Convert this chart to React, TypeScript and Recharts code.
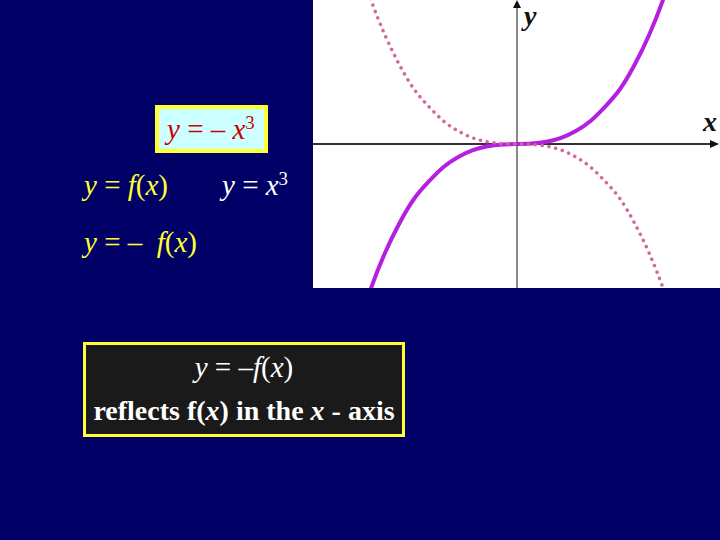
import { LineChart, Line, XAxis, YAxis, ReferenceLine } from 'recharts';

// x values read along the horizontal axis of the graph
const xs = [-1.1, -1.0, -0.9, -0.8, -0.7, -0.6, -0.5, -0.4, -0.3, -0.2, -0.1, 0, 0.1, 0.2, 0.3, 0.4, 0.5, 0.6, 0.7, 0.8, 0.9, 1.0, 1.1];
// solid curve y = x^3, heights
const cubeY = [-1.33, -1.02, -0.76, -0.55, -0.38, -0.26, -0.16, -0.09, -0.042, -0.015, -0.003, 0, 0.003, 0.015, 0.042, 0.09, 0.16, 0.26, 0.38, 0.55, 0.76, 1.02, 1.33];
// dotted curve y = -x^3
const negCubeY = [1.33, 1.02, 0.76, 0.55, 0.38, 0.26, 0.16, 0.09, 0.042, 0.015, 0.003, 0, -0.003, -0.015, -0.042, -0.09, -0.16, -0.26, -0.38, -0.55, -0.76, -1.02, -1.33];

const xDomain = [-1.388, 1.381];
const yDomain = [-1, 1];

const data = xs.map((x, i) => ({ x, cube: cubeY[i], neg: negCubeY[i] }));

const serif = '"Liberation Serif", "Times New Roman", serif';

const XAxisLine = (props: any) => {
  const { x1, y1, x2 } = props;
  return (
    <g>
      <line x1={x1} y1={y1} x2={x2 - 6} y2={y1} stroke="#333" strokeWidth={2} />
      <path d={`M${x2 - 1},${y1} L${x2 - 10},${y1 - 4} L${x2 - 10},${y1 + 4} Z`} fill="#111" />
    </g>
  );
};

const YAxisLine = (props: any) => {
  const { x1, y1, y2 } = props;
  const top = Math.min(y1, y2);
  const bottom = Math.max(y1, y2);
  return (
    <g>
      <line x1={x1} y1={top + 5} x2={x1} y2={bottom} stroke="#888" strokeWidth={2} />
      <path d={`M${x1},${top} L${x1 - 4},${top + 8} L${x1 + 4},${top + 8} Z`} fill="#111" />
    </g>
  );
};

const I = ({ children }: any) => <span style={{ fontStyle: 'italic' }}>{children}</span>;
const Sup = ({ children }: any) => (
  <span style={{ fontSize: '0.65em', position: 'relative', top: '-0.55em' }}>{children}</span>
);

export default function App() {
  return (
    <div
      style={{
        position: 'absolute',
        left: 0,
        top: 0,
        width: 720,
        height: 540,
        background: '#000066',
        overflow: 'hidden',
        fontFamily: serif,
      }}
    >
      <div style={{ position: 'absolute', left: 313, top: 0, width: 407, height: 288, background: '#ffffff' }}>
        <LineChart width={407} height={288} data={data} margin={{ top: 0, right: 0, bottom: 0, left: 0 }}>
          <XAxis dataKey="x" type="number" domain={xDomain} allowDataOverflow hide />
          <YAxis type="number" domain={yDomain} allowDataOverflow hide />
          <ReferenceLine y={0} shape={XAxisLine} ifOverflow="visible" />
          <ReferenceLine x={0} shape={YAxisLine} ifOverflow="visible" />
          <Line
            type="natural"
            dataKey="cube"
            stroke="#b41fe0"
            strokeWidth={4}
            dot={false}
            activeDot={false}
            isAnimationActive={false}
          />
          <Line
            type="natural"
            dataKey="neg"
            stroke="#d2689e"
            strokeWidth={3.5}
            strokeDasharray="0.1 6.8"
            strokeLinecap="round"
            dot={false}
            activeDot={false}
            isAnimationActive={false}
          />
        </LineChart>
        <div style={{ position: 'absolute', left: 211, top: 1, fontSize: 28, fontStyle: 'italic', fontWeight: 'bold', color: '#111', lineHeight: '30px' }}>
          y
        </div>
        <div style={{ position: 'absolute', left: 390, top: 107, fontSize: 28, fontStyle: 'italic', fontWeight: 'bold', color: '#111', lineHeight: '30px' }}>
          x
        </div>
      </div>

      <div
        style={{
          position: 'absolute',
          left: 155,
          top: 105,
          width: 113,
          height: 48,
          boxSizing: 'border-box',
          border: '4px solid #ffff33',
          background: '#ccffff',
          color: '#cc0000',
          fontSize: 29,
          lineHeight: '40px',
          paddingLeft: 8,
          whiteSpace: 'nowrap',
        }}
      >
        <I>y</I> = – <I>x</I>
        <Sup>3</Sup>
      </div>

      <div style={{ position: 'absolute', left: 84, top: 168, fontSize: 29, color: '#ffff33', lineHeight: '34px', whiteSpace: 'nowrap' }}>
        <I>y</I> = <I>f</I>(<I>x</I>)
      </div>
      <div style={{ position: 'absolute', left: 222, top: 168, fontSize: 29, color: '#ffffff', lineHeight: '34px', whiteSpace: 'nowrap' }}>
        <I>y</I> = <I>x</I>
        <Sup>3</Sup>
      </div>
      <div style={{ position: 'absolute', left: 84, top: 225, fontSize: 29, color: '#ffff33', lineHeight: '34px', whiteSpace: 'nowrap' }}>
        <I>y</I> = – &nbsp;<I>f</I>(<I>x</I>)
      </div>

      <div
        style={{
          position: 'absolute',
          left: 83,
          top: 342,
          width: 322,
          height: 95,
          boxSizing: 'border-box',
          border: '3px solid #ffff33',
          background: '#1a1a1a',
          color: '#ffffff',
          textAlign: 'center',
          whiteSpace: 'nowrap',
        }}
      >
        <div style={{ fontSize: 29, lineHeight: '34px', marginTop: 5 }}>
          <I>y</I> = –<I>f</I>(<I>x</I>)
        </div>
        <div style={{ fontSize: 28, fontWeight: 'bold', lineHeight: '32px', marginTop: 11 }}>
          reflects f(<I>x</I>) in the <I>x</I> - axis
        </div>
      </div>
    </div>
  );
}
